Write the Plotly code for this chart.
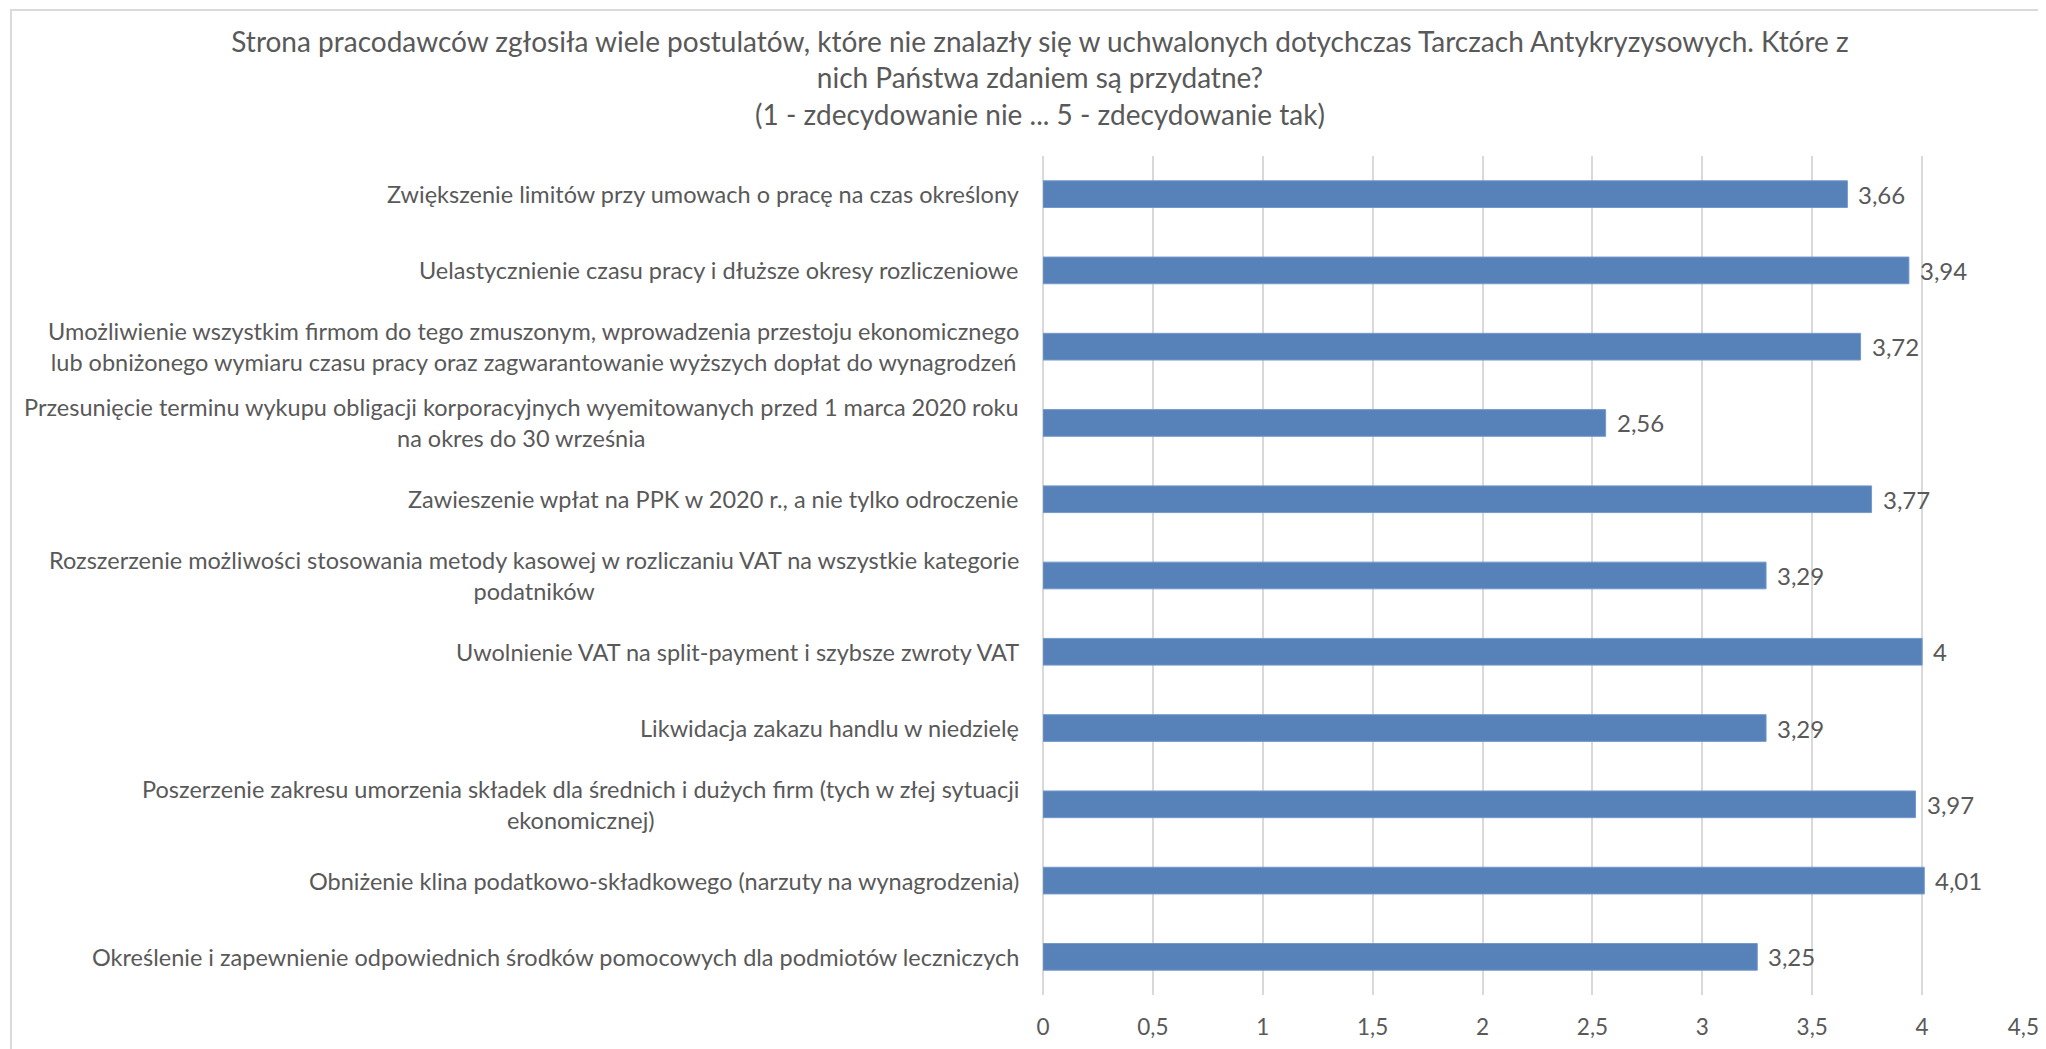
import plotly.graph_objects as go

title_lines = [
    "Strona pracodawców zgłosiła wiele postulatów, które nie znalazły się w uchwalonych dotychczas Tarczach Antykryzysowych. Które z",
    "nich Państwa zdaniem są przydatne?",
    "(1 - zdecydowanie nie ... 5 - zdecydowanie tak)",
]

categories = [
    "Zwiększenie limitów przy umowach o pracę na czas określony",
    "Uelastycznienie czasu pracy i dłuższe okresy rozliczeniowe",
    "Umożliwienie wszystkim firmom do tego zmuszonym, wprowadzenia przestoju ekonomicznego<br>lub obniżonego wymiaru czasu pracy oraz zagwarantowanie wyższych dopłat do wynagrodzeń",
    "Przesunięcie terminu wykupu obligacji korporacyjnych wyemitowanych przed 1 marca 2020 roku<br>na okres do 30 września",
    "Zawieszenie wpłat na PPK w 2020 r., a nie tylko odroczenie",
    "Rozszerzenie możliwości stosowania metody kasowej w rozliczaniu VAT na wszystkie kategorie<br>podatników",
    "Uwolnienie VAT na split-payment i szybsze zwroty VAT",
    "Likwidacja zakazu handlu w niedzielę",
    "Poszerzenie zakresu umorzenia składek dla średnich i dużych firm (tych w złej sytuacji<br>ekonomicznej)",
    "Obniżenie klina podatkowo-składkowego (narzuty na wynagrodzenia)",
    "Określenie i zapewnienie odpowiednich środków pomocowych dla podmiotów leczniczych",
]
values = [3.66, 3.94, 3.72, 2.56, 3.77, 3.29, 4, 3.29, 3.97, 4.01, 3.25]

tick_vals = [0, 0.5, 1, 1.5, 2, 2.5, 3, 3.5, 4, 4.5]

FONT = "Lato"
TXT = "#595959"
# page body has an 8px margin, so the figure is drawn 8px smaller
OFF = 8
W, H = 2046 - OFF, 1049 - OFF
PLOT_L, PLOT_R, PLOT_T, PLOT_B = 1043 - OFF, 2032 - OFF, 156 - OFF, 995 - OFF
ML, MR, MT, MB = PLOT_L, W - PLOT_R, PLOT_T, H - PLOT_B
PW = PLOT_R - PLOT_L
PH = PLOT_B - PLOT_T

value_text = [f"{v:g}".replace(".", ",") for v in values]
ids = list(range(len(categories)))

tick_text = [f"{t:g}".replace(".", ",") for t in tick_vals]
# keep the last label (at the right edge) inside the page
tick_text[-1] = tick_text[-1] + "\u00a0\u00a0\u00a0"

fig = go.Figure(
    go.Bar(
        x=values,
        y=ids,
        orientation="h",
        width=0.35,
        marker=dict(color="#5781b9", line=dict(color="#7399cc", width=1)),
        hoverinfo="x+y",
    )
)

annotations = []
for i, lab in enumerate(categories):
    annotations.append(
        dict(
            x=0, xref="paper", y=i, yref="y",
            text=lab, showarrow=False, xanchor="right", yanchor="middle",
            align="center", xshift=-22,
            font=dict(family=FONT, size=23.5, color=TXT),
        )
    )
for i, (v, t) in enumerate(zip(values, value_text)):
    annotations.append(
        dict(
            x=v, xref="x", y=i, yref="y",
            text=t, showarrow=False, xanchor="left", yanchor="middle",
            xshift=9,
            font=dict(family=FONT, size=24, color=TXT),
        )
    )

fig.update_layout(
    width=W, height=H,
    margin=dict(l=ML, r=MR, t=MT, b=MB, autoexpand=False),
    paper_bgcolor="white", plot_bgcolor="white",
    separators=", ",
    showlegend=False,
    title=dict(
        text="<br>".join(title_lines),
        x=(1040 - OFF) / W, xanchor="center", xref="container",
        y=1 - 44 / H, yanchor="top", yref="container",
        font=dict(family=FONT, size=28, color=TXT),
    ),
    xaxis=dict(
        range=[0, 4.5], tickvals=tick_vals,
        ticktext=tick_text,
        showgrid=True, gridcolor="#d9d9d9", gridwidth=1.5,
        zeroline=True, zerolinecolor="#d9d9d9", zerolinewidth=1.5,
        showline=False, ticks="",
        tickfont=dict(family=FONT, size=22.5, color=TXT),
        ticklabelstandoff=16,
        ticklabeloverflow="allow",
        automargin=False,
        fixedrange=True,
    ),
    yaxis=dict(
        tickvals=ids, showticklabels=False,
        showgrid=False, zeroline=False, showline=False, ticks="",
        range=[len(ids) - 0.5, -0.5],
        automargin=False,
    ),
    annotations=annotations,
    shapes=[
        dict(
            type="rect", xref="paper", yref="paper",
            x0=(11 - OFF - PLOT_L) / PW, x1=(2100 - OFF - PLOT_L) / PW,
            y0=(PLOT_B - (1100 - OFF)) / PH, y1=(PLOT_B - (10 - OFF)) / PH,
            line=dict(color="#dadada", width=2), fillcolor="rgba(0,0,0,0)",
            layer="below",
        )
    ],
)

fig.write_html("out.html")
